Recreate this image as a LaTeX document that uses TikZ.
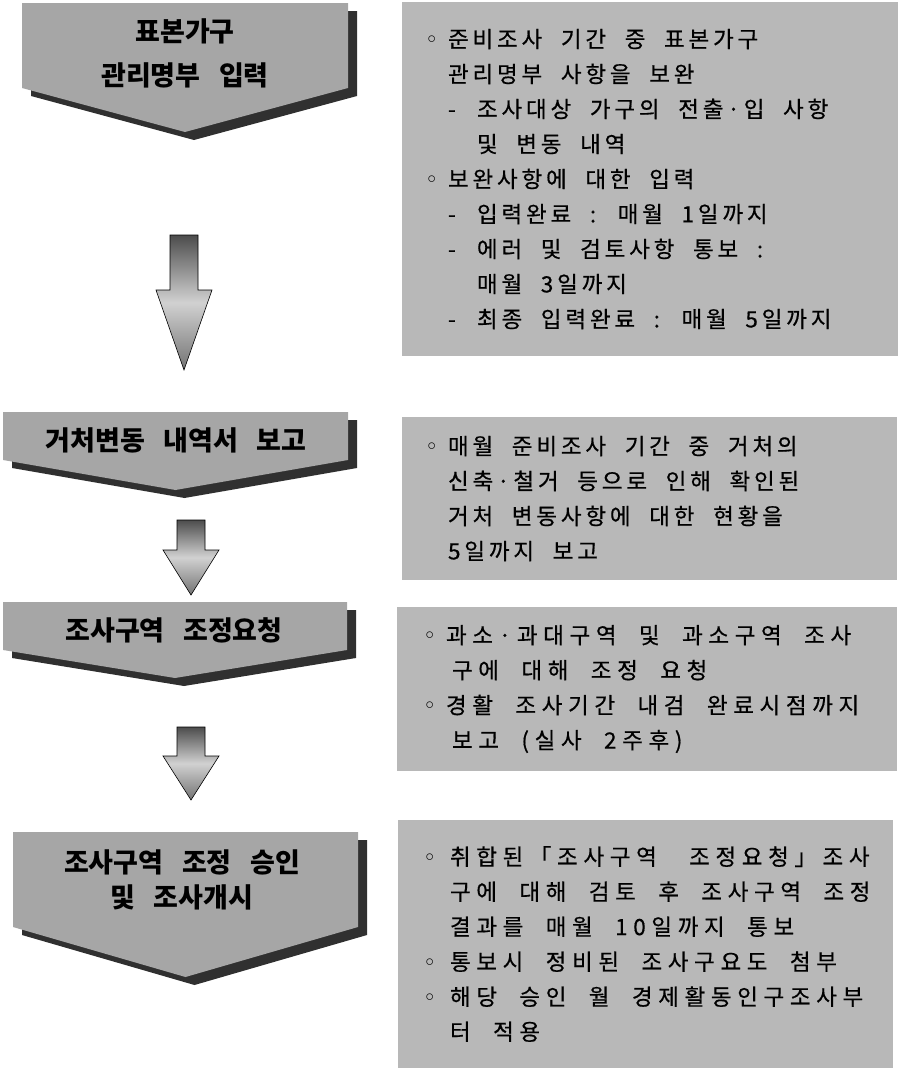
\documentclass[tikz,border=0pt]{standalone}
\usepackage{fontspec}
\usepackage{tikz}
\usetikzlibrary{positioning,calc}
\setmainfont{Noto Sans CJK KR}
\newfontfamily\labfont[WordSpace=3]{Noto Sans CJK KR}
\newfontfamily\notefont[LetterSpace=17,WordSpace=2.1,FakeBold=0.6]{Noto Sans CJK KR}
\newfontfamily\widenotefont[LetterSpace=25,WordSpace=2.1,FakeBold=0.6]{Noto Sans CJK KR}
\newfontfamily\symfont{DejaVu Sans}
\definecolor{boxgray}{RGB}{184,184,184}
\definecolor{labgray}{RGB}{166,166,166}
\definecolor{shadowgray}{RGB}{48,48,48}
\newcommand{\bul}{\makebox[23pt][l]{\symfont ◦}}
\newcommand{\dsh}{\makebox[29pt][l]{-}}
\tikzset{
  notebox/.style={fill=boxgray, inner sep=0pt},
  notetext/.style={align=left, inner xsep=23pt, inner ysep=0pt, font=\notefont\fontsize{22.5}{35}\selectfont},
  widenote/.style={notetext, font=\widenotefont\fontsize{22.5}{35}\selectfont},
  steptext/.style={align=center, inner sep=0pt, font=\labfont\bfseries\fontsize{27}{35}\selectfont},
  stepshape/.style={fill=labgray},
  stepshadow/.style={fill=shadowgray},
  blockarrow/.style={draw=black, line width=0.6pt, top color=black!70, bottom color=black!55, middle color=black!18}
}
\begin{document}
\begin{tikzpicture}[x=1pt, y=-1pt]
  \useasboundingbox (0,0) rectangle (905,1068);

  % step shapes with shadow
  \foreach \xl/\xr/\yt/\ym/\yb in {22/348/3/88/132, 3/348/412/460/490, 3/347/602/650/678, 13/358/832/927/977} {
    \pgfmathsetmacro{\cx}{(\xl+\xr)/2}
    \fill[stepshadow] (\xl+9,\yt+8) -- (\xr+9,\yt+8) -- (\xr+9,\ym+8) -- (\cx+9,\yb+8) -- (\xl+9,\ym+8) -- cycle;
    \fill[stepshape] (\xl,\yt) -- (\xr,\yt) -- (\xr,\ym) -- (\cx,\yb) -- (\xl,\ym) -- cycle;
  }

  \node[steptext, font=\labfont\bfseries\fontsize{27}{44}\selectfont] (lab1) at (185,53) {표본가구\\관리명부 입력};
  \node[steptext] (lab2) at (176,440) {거처변동 내역서 보고};
  \node[steptext] (lab3) at (174,630) {조사구역 조정요청};
  \node[steptext] (lab4) at (182,880) {조사구역 조정 승인\\및 조사개시};

  % notes
  \node[notebox, minimum width=496, minimum height=354] (box1) at (650,179) {};
  \node[notebox, minimum width=495, minimum height=163] (box2) at (649.5,498.5) {};
  \node[notebox, minimum width=500, minimum height=164] (box3) at (647,689) {};
  \node[notebox, minimum width=495, minimum height=248] (box4) at (645.5,944) {};

  \node[notetext, right=0pt of box1.west] (note1) {%
    \bul 준비조사 기간 중 표본가구\\
    \hspace*{23pt}관리명부 사항을 보완\\
    \hspace*{23pt}\dsh 조사대상 가구의 전출·입 사항\\
    \hspace*{52pt}및 변동 내역\\
    \bul 보완사항에 대한 입력\\
    \hspace*{23pt}\dsh 입력완료 : 매월 1일까지\\
    \hspace*{23pt}\dsh 에러 및 검토사항 통보 :\\
    \hspace*{52pt}매월 3일까지\\
    \hspace*{23pt}\dsh 최종 입력완료 : 매월 5일까지};
  \node[notetext, right=0pt of box2.west] (note2) {%
    \bul 매월 준비조사 기간 중 거처의\\
    \hspace*{23pt}신축·철거 등으로 인해 확인된\\
    \hspace*{23pt}거처 변동사항에 대한 현황을\\
    \hspace*{23pt}5일까지 보고};
  \node[widenote, inner xsep=26pt, right=0pt of box3.west] (note3) {%
    \bul 과소·과대구역 및 과소구역 조사\\
    \hspace*{29pt}구에 대해 조정 요청\\
    \bul 경활 조사기간 내검 완료시점까지\\
    \hspace*{29pt}보고 (실사 2주후)};
  \node[widenote, inner xsep=25pt, right=0pt of box4.west] (note4) {%
    \makebox[27pt][l]{\symfont ◦}취합된「조사구역\hspace{10pt} 조정요청」조사\\
    \hspace*{27pt}구에 대해 검토 후 조사구역 조정\\
    \hspace*{27pt}결과를 매월 10일까지 통보\\
    \makebox[27pt][l]{\symfont ◦}통보시 정비된 조사구요도 첨부\\
    \makebox[27pt][l]{\symfont ◦}해당 승인 월 경제활동인구조사부\\
    \hspace*{27pt}터 적용};

  % block arrows between steps
  \coordinate (a1s) at (184,235);
  \coordinate (a1e) at (184,370);
  \coordinate (a2s) at (191,520);
  \coordinate (a2e) at (191,595);
  \coordinate (a3s) at (191,727);
  \coordinate (a3e) at (191,800);
  \foreach \s/\e/\h in {a1s/a1e/80, a2s/a2e/45, a3s/a3e/44}
    \draw[blockarrow] ($(\s)+(-14,0)$) -- ($(\s)+(14,0)$) -- ($(\e)+(14,-\h)$) -- ($(\e)+(28,-\h)$)
      -- (\e) -- ($(\e)+(-28,-\h)$) -- ($(\e)+(-14,-\h)$) -- cycle;
\end{tikzpicture}
\end{document}
